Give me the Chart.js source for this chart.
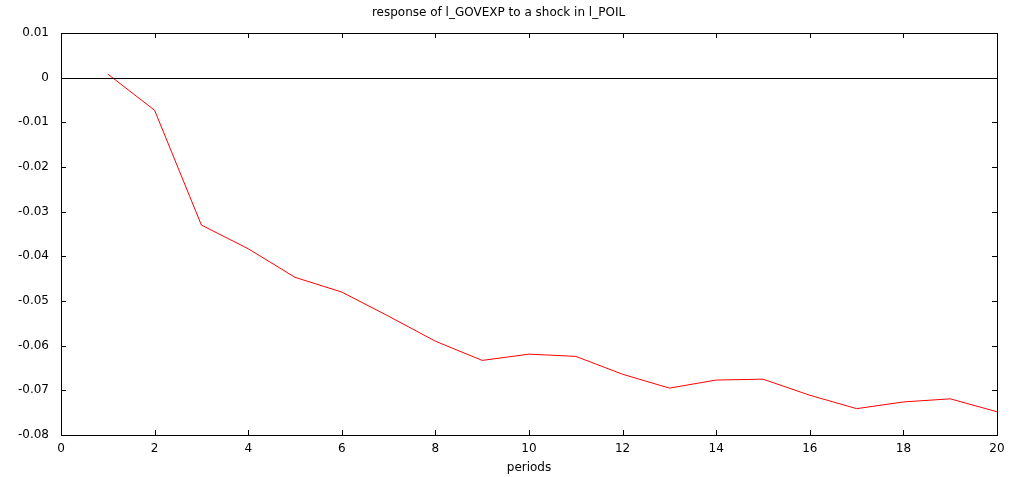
<!DOCTYPE html>
<html>
<head>
<meta charset="utf-8">
<script src="https://cdn.jsdelivr.net/npm/chart.js@4/dist/chart.umd.min.js"></script>
<style>
  html, body { margin: 0; padding: 0; background: #fff; }
  #wrap { width: 1012px; height: 477px; }
</style>
</head>
<body>
<div id="wrap"><canvas id="irf"></canvas></div>
<script>
// impulse response
const periods = [1, 2, 3, 4, 5, 6, 7, 8, 9, 10, 11, 12, 13, 14, 15, 16, 17, 18, 19, 20];
const response = [0.0008, -0.0073, -0.0330, -0.0383, -0.0447, -0.0480, -0.0534, -0.0590, -0.0633, -0.0619,
                  -0.0624, -0.0664, -0.0695, -0.0677, -0.0675, -0.0711, -0.0741, -0.0726, -0.0719, -0.0748];
const xTicks = [0, 2, 4, 6, 8, 10, 12, 14, 16, 18, 20];
const yTicks = [0.01, 0, -0.01, -0.02, -0.03, -0.04, -0.05, -0.06, -0.07, -0.08];

const FONT = 'DejaVu Sans';

// gnuplot-like frame, inward ticks and zero line
const framePlugin = {
    id: 'frame',
    afterDatasetsDraw(chart) {
        const { ctx, chartArea: a, scales } = chart;
        const t = 5;
        ctx.save();
        ctx.strokeStyle = '#000';
        ctx.lineWidth = 1;
        ctx.beginPath();
        const y0 = Math.round(scales.y.getPixelForValue(0)) + 0.5;
        ctx.moveTo(a.left, y0);
        ctx.lineTo(a.right, y0);
        xTicks.forEach(v => {
            const x = Math.round(scales.x.getPixelForValue(v)) + 0.5;
            ctx.moveTo(x, a.top); ctx.lineTo(x, a.top + t);
            ctx.moveTo(x, a.bottom); ctx.lineTo(x, a.bottom - t);
        });
        yTicks.forEach(v => {
            const y = Math.round(scales.y.getPixelForValue(v)) + 0.5;
            ctx.moveTo(a.left, y); ctx.lineTo(a.left + t, y);
            ctx.moveTo(a.right, y); ctx.lineTo(a.right - t, y);
        });
        ctx.stroke();
        ctx.strokeRect(Math.round(a.left) + 0.5, Math.round(a.top) + 0.5,
                       Math.round(a.right - a.left), Math.round(a.bottom - a.top));
        ctx.restore();
    }
};

new Chart(document.getElementById('irf'), {
    type: 'line',
    data: {
        datasets: [{
            data: periods.map((p, i) => ({ x: p, y: response[i] })),
            borderColor: '#ff0000',
            borderWidth: 1,
            pointRadius: 0,
            tension: 0,
            fill: false
        }]
    },
    options: {
        responsive: true,
        maintainAspectRatio: false,
        animation: false,
        layout: { padding: { top: 0, right: 15, bottom: 0, left: 0 } },
        plugins: {
            legend: { display: false },
            tooltip: { enabled: false },
            title: {
                display: true,
                text: 'response of l_GOVEXP to a shock in l_POIL',
                color: '#000',
                font: { family: FONT, size: 12, weight: 'normal' },
                padding: { top: 6, bottom: 12.6 }
            }
        },
        scales: {
            x: {
                type: 'linear',
                min: 0,
                max: 20,
                afterBuildTicks(scale) { scale.ticks = xTicks.map(v => ({ value: v })); },
                afterFit(scale) { scale.height = 42; },
                grid: { display: false, drawTicks: false },
                border: { display: false },
                ticks: {
                    color: '#000',
                    padding: 7,
                    maxRotation: 0,
                    font: { family: FONT, size: 12 }
                },
                title: {
                    display: true,
                    text: 'periods',
                    color: '#000',
                    font: { family: FONT, size: 12 },
                    padding: { top: 2, bottom: 2 }
                }
            },
            y: {
                min: -0.08,
                max: 0.01,
                afterBuildTicks(scale) { scale.ticks = yTicks.map(v => ({ value: v })); },
                afterFit(scale) { scale.width = 61; },
                grid: { display: false, drawTicks: false },
                border: { display: false },
                ticks: {
                    color: '#000',
                    padding: 12,
                    font: { family: FONT, size: 12 },
                    callback: v => String(Number(v.toFixed(2)))
                }
            }
        }
    },
    plugins: [framePlugin]
});
</script>
</body>
</html>
